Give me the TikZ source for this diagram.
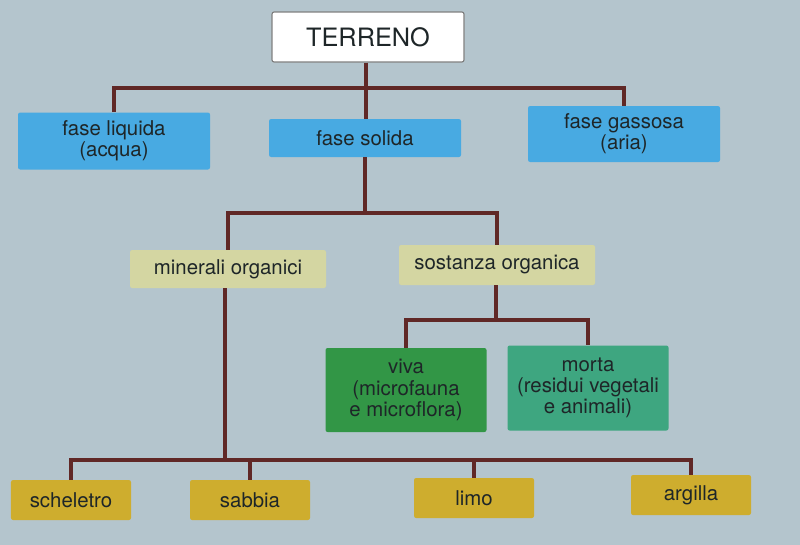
\documentclass[tikz,border=0pt]{standalone}
\usepackage{fontspec}
\setmainfont{TeX Gyre Heros}
\usepackage{tikz}
\usetikzlibrary{calc}
\definecolor{sfondo}{RGB}{180,197,205}
\definecolor{azzurro}{RGB}{72,170,226}
\definecolor{paglia}{RGB}{212,214,162}
\definecolor{verde}{RGB}{50,150,70}
\definecolor{verdeacqua}{RGB}{62,166,128}
\definecolor{senape}{RGB}{206,173,46}
\definecolor{linea}{RGB}{96,40,38}
\definecolor{testo}{RGB}{30,38,40}
\tikzset{
  box/.style={rectangle, rounded corners=1.5pt, inner sep=0pt, align=center,
    text=testo, font=\fontsize{14.5}{15}\selectfont},
  fase/.style={box, fill=azzurro, minimum width=4.8cm},
  parte/.style={box, fill=paglia, minimum width=4.9cm},
  base/.style={box, fill=senape, minimum width=3cm, minimum height=1cm},
  ramo/.style={linea, line width=3.4pt}
}
\begin{document}
\begin{tikzpicture}
\fill[sfondo] (0cm,0cm) rectangle (20cm,-13.625cm);
\useasboundingbox (0cm,0cm) rectangle (20cm,-13.625cm);
\node[box, fill=white, draw=gray, line width=0.8pt, minimum width=4.8cm, minimum height=1.25cm,
  font=\fontsize{18}{19}\selectfont] (ter) at (9.2 cm,-0.925cm) {TERRENO};
\node[fase, minimum height=1.425cm] (liq) at (2.85 cm,-3.525cm) {fase liquida\\(acqua)};
\node[fase, minimum height=0.95cm] (sol) at (9.125 cm,-3.45cm) {fase solida};
\node[fase, minimum height=1.4cm] (gas) at (15.6 cm,-3.35cm) {fase gassosa\\(aria)};
\node[parte, minimum height=0.95cm] (min) at (5.7 cm,-6.725cm) {minerali organici};
\node[parte, minimum height=1cm] (sos) at (12.425 cm,-6.625cm) {sostanza organica};
\node[box, fill=verde, minimum width=4.025cm, minimum height=2.1cm] (viva) at (10.15 cm,-9.75cm)
  {viva\\(microfauna\\e microflora)};
\node[box, fill=verdeacqua, minimum width=4.025cm, minimum height=2.125cm] (morta) at (14.7 cm,-9.7cm)
  {morta\\(residui vegetali\\e animali)};
\node[base] (sch) at (1.775 cm,-12.5cm) {scheletro};
\node[base] (sab) at (6.25 cm,-12.5cm) {sabbia};
\node[base] (limo) at (11.85 cm,-12.45cm) {limo};
\node[base] (arg) at (17.275 cm,-12.375cm) {argilla};
% giunzioni
\coordinate (b1) at (9.15 cm,-2.2cm);
\coordinate (b2) at (9.125 cm,-5.325cm);
\coordinate (b3) at (12.4 cm,-8cm);
\coordinate (b4) at (5.625 cm,-11.5cm);
\draw[ramo] (ter.south -| b1) -- (b1);
\draw[ramo] (liq.north) |- (b1) -| (gas.north);
\draw[ramo] (b1) -- (b1 |- sol.north);
\draw[ramo] (sol.south) -- (b2);
\draw[ramo] (min.north) |- (b2) -| (sos.north);
\draw[ramo] (sos.south -| b3) -- (b3);
\draw[ramo] (viva.north) |- (b3) -| (morta.north);
\draw[ramo] (min.south -| b4) -- (b4);
\draw[ramo] (sch.north) |- (b4) -| (arg.north);
\draw[ramo] (sab.north) -- (sab.north |- b4);
\draw[ramo] (limo.north) -- (limo.north |- b4);
\end{tikzpicture}
\end{document}
